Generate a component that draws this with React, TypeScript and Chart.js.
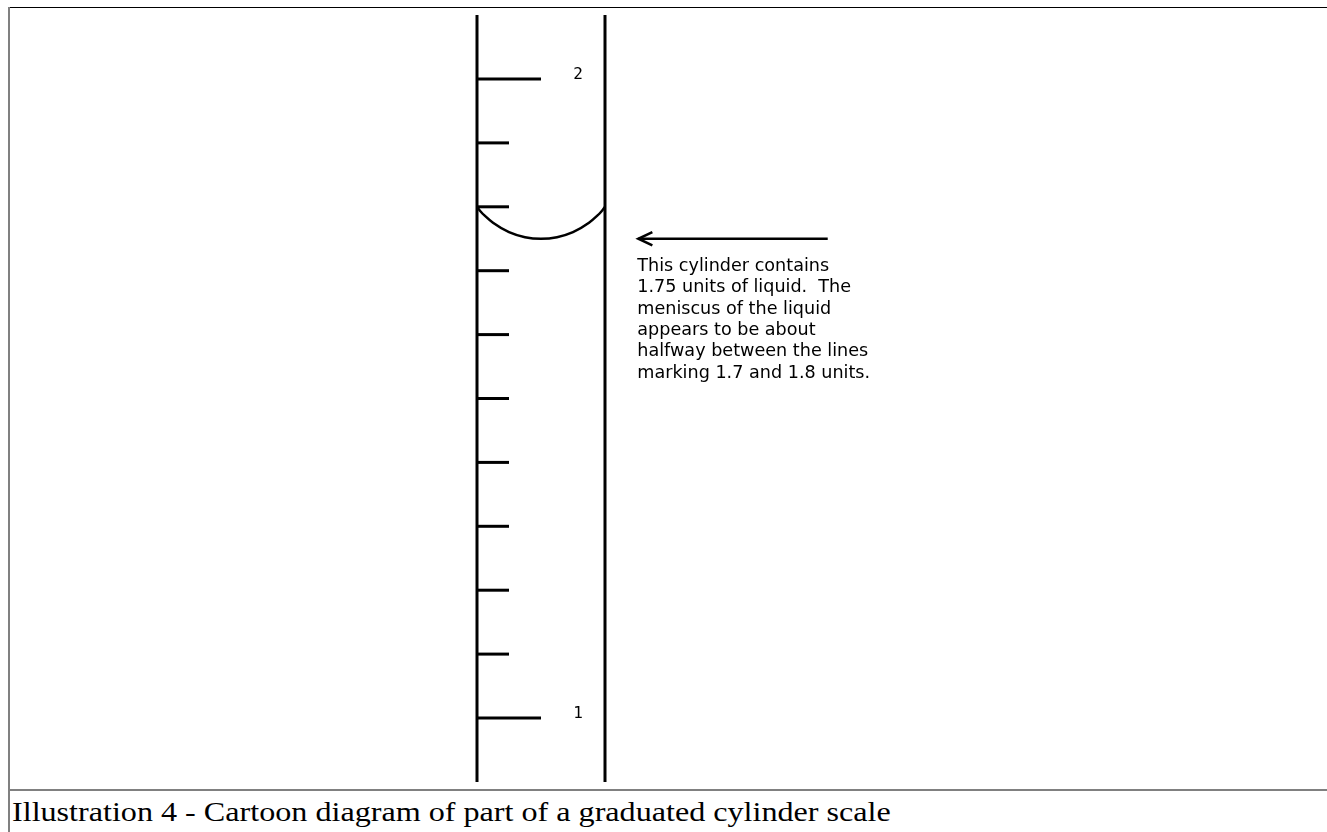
import React, { useEffect, useRef } from "react";
import { Chart, registerables } from "chart.js";

Chart.register(...registerables);

// Graduation marks (units) on the cylinder scale
const scaleValues = [1.0, 1.1, 1.2, 1.3, 1.4, 1.5, 1.6, 1.7, 1.8, 1.9, 2.0];
const majorValues = [1.0, 2.0];
const majorLabels = ["1", "2"];
// Cylinder walls (in units of the scale)
const wallBottom = 0.9;
const wallTop = 2.1;
// Meniscus shape (x across the cylinder 0..1, y in units)
const meniscusX = [0, 0.03, 0.0625, 0.125, 0.25, 0.375, 0.5, 0.625, 0.75, 0.875, 0.9375, 0.97, 1];
const meniscusY = [1.8, 1.7923, 1.7857, 1.775, 1.7604, 1.7525, 1.75, 1.7525, 1.7604, 1.775, 1.7857, 1.7923, 1.8];
// Reading & arrow
const readingValue = 1.75;
const arrowX = [1.26, 2.74];
const noteLines = [
  "This cylinder contains",
  "1.75 units of liquid.  The",
  "meniscus of the liquid",
  "appears to be about",
  "halfway between the lines",
  "marking 1.7 and 1.8 units.",
];
const caption = "Illustration 4 - Cartoon diagram of part of a graduated cylinder scale";

const W = 1327;
const H = 790;

export default function App() {
  const ref = useRef<HTMLCanvasElement | null>(null);

  useEffect(() => {
    const canvas = ref.current;
    if (!canvas) return;

    const lineBase = {
      showLine: true,
      pointRadius: 0,
      pointHoverRadius: 0,
      borderColor: "#000000",
      backgroundColor: "#000000",
      fill: false,
      borderCapStyle: "butt" as const,
    };

    const datasets: any[] = [];
    datasets.push({ ...lineBase, borderWidth: 3, data: [{ x: 0, y: wallBottom }, { x: 0, y: wallTop }] });
    datasets.push({ ...lineBase, borderWidth: 3, data: [{ x: 1, y: wallBottom }, { x: 1, y: wallTop }] });
    scaleValues.forEach((v) => {
      const major = majorValues.some((m) => Math.abs(m - v) < 1e-9);
      datasets.push({
        ...lineBase,
        borderWidth: 3,
        data: [{ x: 0, y: v }, { x: major ? 0.5 : 0.25, y: v }],
      });
    });
    datasets.push({
      ...lineBase,
      borderWidth: 2.5,
      cubicInterpolationMode: "monotone",
      data: meniscusX.map((x, i) => ({ x, y: meniscusY[i] })),
    });
    datasets.push({
      ...lineBase,
      borderWidth: 2.5,
      data: [{ x: arrowX[0], y: readingValue }, { x: arrowX[1], y: readingValue }],
    });
    datasets.push({
      ...lineBase,
      borderWidth: 2.5,
      borderJoinStyle: "miter",
      data: [
        { x: arrowX[0] + 0.11, y: readingValue + 0.0105 },
        { x: arrowX[0], y: readingValue },
        { x: arrowX[0] + 0.11, y: readingValue - 0.0105 },
      ],
    });

    const textPlugin = {
      id: "texts",
      afterDatasetsDraw(chart: any) {
        const ctx = chart.ctx;
        const xs = chart.scales.x;
        const ys = chart.scales.y;
        ctx.save();
        ctx.fillStyle = "#000000";
        ctx.font = "16px 'DejaVu Sans Mono'";
        ctx.textAlign = "center";
        ctx.textBaseline = "alphabetic";
        majorValues.forEach((v, i) => {
          ctx.fillText(majorLabels[i], xs.getPixelForValue(0.79), ys.getPixelForValue(v));
        });
        ctx.font = "17.6px 'DejaVu Sans'";
        ctx.textAlign = "left";
        const x0 = xs.getPixelForValue(arrowX[0]) - 1;
        const y0 = ys.getPixelForValue(readingValue) + 32;
        noteLines.forEach((line, i) => {
          ctx.fillText(line, x0, y0 + i * 21.4);
        });
        ctx.restore();
      },
    };

    const chart = new Chart(canvas, {
      type: "scatter",
      data: { datasets },
      options: {
        responsive: false,
        animation: false,
        devicePixelRatio: 1,
        layout: { padding: 0 },
        plugins: { legend: { display: false }, tooltip: { enabled: false } },
        events: [],
        scales: {
          x: { type: "linear", display: false, min: -477 / 128, max: (W - 477) / 128 },
          y: { type: "linear", display: false, min: 1 - (H - 718) / 639, max: 2 + 79 / 639 },
        },
      },
      plugins: [textPlugin],
    });
    return () => chart.destroy();
  }, []);

  return (
    <div style={{ position: "fixed", left: 0, top: 0, width: W, height: 832, background: "#fff", overflow: "hidden" }}>
      <canvas ref={ref} width={W} height={H} style={{ position: "absolute", left: 0, top: 0, width: W, height: H }} />
      <div style={{ position: "absolute", left: 9, top: 7, width: W - 9, height: 1, background: "#000" }} />
      <div style={{ position: "absolute", left: 8, top: 7, width: 2, height: 832 - 7, background: "#808080" }} />
      <div style={{ position: "absolute", left: 10, top: 789, width: W - 10, height: 2, background: "#808080" }} />
      <div
        style={{
          position: "absolute",
          left: 12,
          top: 795,
          fontFamily: "'Liberation Serif', 'Times New Roman', serif",
          fontSize: 27,
          lineHeight: "34px",
          color: "#000",
          whiteSpace: "nowrap",
          transform: "scaleX(1.19)",
          transformOrigin: "left top",
        }}
      >
        {caption}
      </div>
    </div>
  );
}
